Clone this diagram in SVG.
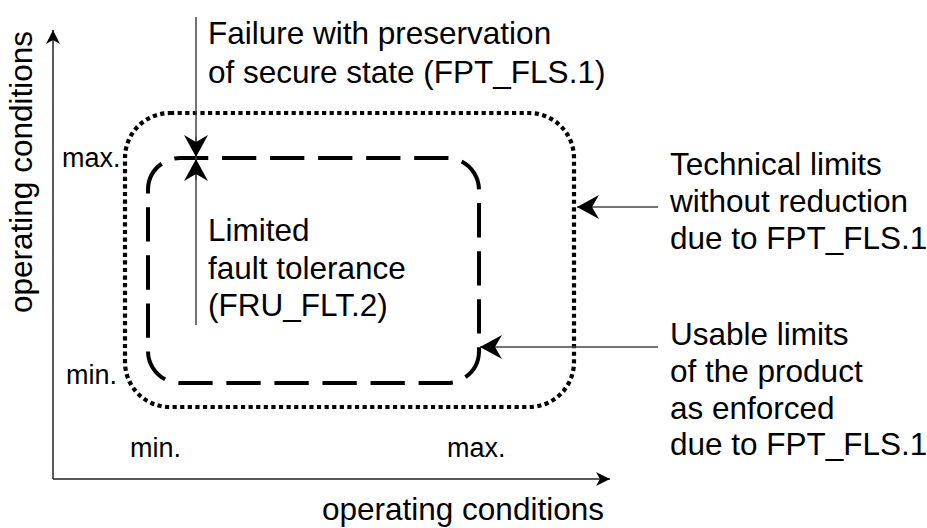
<svg xmlns="http://www.w3.org/2000/svg" width="927" height="528" viewBox="0 0 927 528">
<style>
text{font-family:"Liberation Sans",Arial,sans-serif;fill:#000}
.big{font-size:31.5px}
.sm{font-size:27px}
.axis{stroke:#222;stroke-width:1.5;fill:none}
.ptr{stroke:#444;stroke-width:1.5;fill:none}
</style>
<defs>
<marker id="ah" viewBox="0 0 22 24" refX="22" refY="12" markerWidth="22" markerHeight="24" markerUnits="userSpaceOnUse" orient="auto">
<path d="M22,12 L0,0 L7,12 L0,24 Z" fill="#000"/>
</marker>
<marker id="ax" viewBox="0 0 14 14" refX="14" refY="7" markerWidth="14" markerHeight="14" markerUnits="userSpaceOnUse" orient="auto">
<path d="M14,7 L0,0 L4,7 L0,14 Z" fill="#000"/>
</marker>
</defs>
<g id="axes">
<line class="axis" x1="53" y1="479" x2="53" y2="30" marker-end="url(#ax)"/>
<line class="axis" x1="53" y1="479" x2="610" y2="479" marker-end="url(#ax)"/>
<text class="big" transform="translate(32,172) rotate(-90)" text-anchor="middle">operating conditions</text>
<text class="big" x="322" y="520">operating conditions</text>
<text class="sm" x="62" y="167">max.</text>
<text class="sm" x="66" y="384">min.</text>
<text class="sm" x="130" y="457">min.</text>
<text class="sm" x="447" y="457">max.</text>
</g>
<g id="technical-limits">
<rect x="125" y="113" width="449" height="294" rx="45" fill="none" stroke="#000" stroke-width="4.2" stroke-dasharray="4.2 3.4"/>
</g>
<g id="usable-limits">
<rect x="148" y="158" width="331" height="225" rx="32" fill="none" stroke="#000" stroke-width="4" stroke-dasharray="34.3 13.75" stroke-dashoffset="-42"/>
</g>
<g id="connectors">
<line class="ptr" x1="196" y1="17" x2="196" y2="325"/>
<line class="ptr" x1="196" y1="137" x2="196" y2="157" marker-end="url(#ah)"/>
<line class="ptr" x1="196" y1="180" x2="196" y2="159" marker-end="url(#ah)"/>
<line class="ptr" x1="658" y1="207" x2="577" y2="207" marker-end="url(#ah)"/>
<line class="ptr" x1="658" y1="347" x2="480" y2="347" marker-end="url(#ah)"/>
</g>
<g id="label-failure">
<text class="big" x="208" y="44">Failure with preservation</text>
<text class="big" x="208" y="83">of secure state (FPT_FLS.1)</text>
</g>
<g id="label-fault">
<text class="big" x="208" y="241">Limited</text>
<text class="big" x="208" y="279">fault tolerance</text>
<text class="big" x="208" y="316">(FRU_FLT.2)</text>
</g>
<g id="label-technical">
<text class="big" x="670" y="175">Technical limits</text>
<text class="big" x="670" y="212">without reduction</text>
<text class="big" x="670" y="249">due to FPT_FLS.1</text>
</g>
<g id="label-usable">
<text class="big" x="670" y="345">Usable limits</text>
<text class="big" x="670" y="382">of the product</text>
<text class="big" x="670" y="419">as enforced</text>
<text class="big" x="670" y="455">due to FPT_FLS.1</text>
</g>
</svg>
